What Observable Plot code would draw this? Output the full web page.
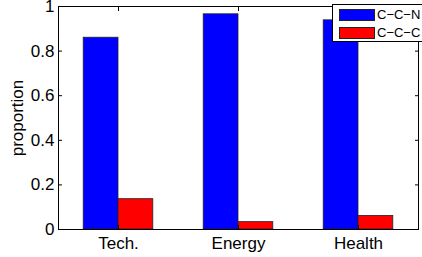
<!DOCTYPE html>
<html><head><meta charset="utf-8">
<script src="https://cdn.jsdelivr.net/npm/d3@7"></script>
<script src="https://cdn.jsdelivr.net/npm/@observablehq/plot@0.6"></script>
<style>
html,body{margin:0;padding:0;background:#fff;overflow:hidden;}
#wrap{position:relative;width:422px;height:257px;overflow:hidden;font-family:"Liberation Sans",Arial,sans-serif;}
#legend{position:absolute;left:332px;top:4px;width:110px;height:38px;border:1px solid #000;background:#fff;box-sizing:border-box;font-size:13px;line-height:13px;}
.item{position:absolute;left:6px;display:flex;align-items:center;white-space:nowrap;}
.sw{width:36px;height:12px;border:1px solid #222;box-sizing:border-box;margin-right:2px;}
</style></head>
<body><div id="wrap"><div id="legend"></div></div>
<script>
const categories = ["Tech.", "Energy", "Health"];
const series = ["C\u2212C\u2212N", "C\u2212C\u2212C"];
const colors = ["#0000ff", "#ff0000"];
const valuesCCN = [0.86, 0.965, 0.938];
const valuesCCC = [0.136, 0.033, 0.061];
const yTicks = [0, 0.2, 0.4, 0.6, 0.8, 1];

const barW = 0.29;
const rows = [];
categories.forEach((c, i) => {
  rows.push({i: i + 1, x1: i + 1 - barW, x2: i + 1, v: valuesCCN[i], s: series[0]});
  rows.push({i: i + 1, x1: i + 1, x2: i + 1 + barW, v: valuesCCC[i], s: series[1]});
});

const font = "Liberation Sans, Arial, sans-serif";
const chart = Plot.plot({
  width: 422, height: 257,
  marginLeft: 58, marginRight: 4, marginTop: 6, marginBottom: 28,
  style: {fontFamily: font, fontSize: "17px", color: "#000", background: "#fff", overflow: "visible"},
  x: {domain: [0.5, 3.5], axis: null},
  y: {domain: [0, 1], axis: null},
  color: {domain: series, range: colors},
  marks: [
    Plot.rectY(rows, {x1: "x1", x2: "x2", y1: 0, y2: "v", fill: "s", stroke: "#222", strokeWidth: 0.8}),
    Plot.frame({stroke: "#000", strokeWidth: 1}),
    Plot.axisY({ticks: yTicks, tickSize: -4, tickPadding: 8, tickFormat: d => String(d), fontSize: 17,
      label: "proportion", labelAnchor: "center", labelArrow: "none", labelOffset: 47.5}),
    Plot.axisY({ticks: yTicks, anchor: "right", tickSize: -4, tickFormat: () => "", label: null}),
    Plot.axisX({ticks: [1, 2, 3], tickSize: -4, tickPadding: 11, tickFormat: d => categories[d - 1], fontSize: 17, label: null}),
    Plot.axisX({ticks: [1, 2, 3], anchor: "top", tickSize: -4, tickFormat: () => "", label: null})
  ]
});
document.getElementById("wrap").prepend(chart);

const lg = document.getElementById("legend");
series.forEach((s, k) => {
  const it = document.createElement("div");
  it.className = "item";
  it.style.top = (k === 0 ? 3 : 21) + "px";
  it.innerHTML = `<div class="sw" style="background:${colors[k]}"></div><span>${s}</span>`;
  lg.appendChild(it);
});
</script></body></html>
